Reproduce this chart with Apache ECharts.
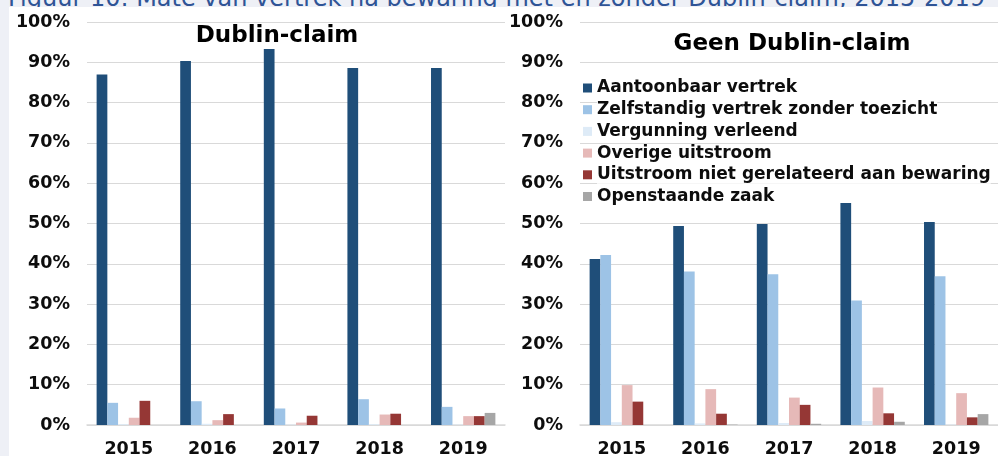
<!DOCTYPE html>
<html>
<head>
<meta charset="utf-8">
<script src="https://cdn.jsdelivr.net/npm/echarts@6/dist/echarts.min.js"></script>
<style>
  html, body { margin: 0; padding: 0; background: #eef0f6; }
  #caption {
    position: absolute; left: 8px; top: -16px; white-space: nowrap;
    font: 24px/28px "DejaVu Sans", sans-serif; color: #2f5496;
  }
  #panel { position: absolute; left: 9px; top: 7px; width: 989px; height: 449px; background: #fff; }
  #chart { position: absolute; left: 0; top: 0; width: 998px; height: 456px; }
</style>
</head>
<body>
<div id="caption">Figuur 10: Mate van vertrek na bewaring met en zonder Dublin-claim, 2015-2019</div>
<div id="panel"></div>
<div id="chart"></div>
<script>
const years = ["2015", "2016", "2017", "2018", "2019"];
const seriesNames = [
  "Aantoonbaar vertrek",
  "Zelfstandig vertrek zonder toezicht",
  "Vergunning verleend",
  "Overige uitstroom",
  "Uitstroom niet gerelateerd aan bewaring",
  "Openstaande zaak"
];
const colors = ["#1f4e79", "#9dc3e6", "#deebf7", "#e6b9b8", "#953735", "#a6a6a6"];

// Dublin-claim (%)
const dublin = [
  [87.0, 90.3, 93.3, 88.6, 88.6],
  [5.5, 5.9, 4.1, 6.4, 4.5],
  [0.2, 0.3, 0.1, 0.2, 0.1],
  [1.8, 1.2, 0.6, 2.6, 2.2],
  [6.0, 2.7, 2.3, 2.8, 2.2],
  [0, 0, 0, 0, 3.0]
];
// Geen Dublin-claim (%)
const geenDublin = [
  [41.2, 49.4, 49.9, 55.1, 50.4],
  [42.2, 38.1, 37.4, 30.9, 36.9],
  [0.7, 0.4, 0.5, 1.0, 0.1],
  [9.9, 8.9, 6.8, 9.3, 7.9],
  [5.8, 2.8, 5.0, 2.9, 1.9],
  [0, 0.1, 0.3, 0.8, 2.7]
];

const font = "DejaVu Sans";
const labelStyle = { fontFamily: font, fontWeight: "bold", fontSize: 17.5, color: "#0d0d0d" };

const grids = [
  { left: 87, top: 22, width: 418, height: 403, outerBoundsMode: "none" },
  { left: 580, top: 22, width: 418, height: 403, outerBoundsMode: "none" }
];

function xAxis(i) {
  return {
    type: "category", gridIndex: i, data: years,
    axisLine: { lineStyle: { color: "#d9d9d9", width: 1.5 } },
    axisTick: { show: false },
    axisLabel: Object.assign({ margin: 15 }, labelStyle)
  };
}
function yAxis(i) {
  return {
    type: "value", gridIndex: i, min: 0, max: 100, interval: 10,
    axisLine: { show: false }, axisTick: { show: false },
    splitLine: { lineStyle: { color: "#d9d9d9" } },
    axisLabel: Object.assign({ formatter: "{value}%", margin: 17 }, labelStyle)
  };
}

function barSeries(data, i) {
  return data.map((vals, k) => ({
    type: "bar", name: seriesNames[k], xAxisIndex: i, yAxisIndex: i,
    data: vals, barGap: "0%", barCategoryGap: "23%",
    itemStyle: { color: colors[k] }
  }));
}

const chart = echarts.init(document.getElementById("chart"));
chart.setOption({
  animation: false,
  color: colors,
  grid: grids,
  xAxis: [xAxis(0), xAxis(1)],
  yAxis: [yAxis(0), yAxis(1)],
  legend: {
    orient: "vertical", left: 578, top: 74,
    itemWidth: 9, itemHeight: 9, itemGap: 3.7,
    icon: "rect",
    data: seriesNames,
    textStyle: { fontFamily: font, fontWeight: "bold", fontSize: 17, lineHeight: 18, color: "#0d0d0d", backgroundColor: "#fff" }
  },
  graphic: [
    { type: "text", x: 277, y: 36, style: { text: "Dublin-claim", font: "bold 23px DejaVu Sans", fill: "#000", textAlign: "center", textVerticalAlign: "middle" } },
    { type: "text", x: 792, y: 44, style: { text: "Geen Dublin-claim", font: "bold 23px DejaVu Sans", fill: "#000", textAlign: "center", textVerticalAlign: "middle" } }
  ],
  series: barSeries(dublin, 0).concat(barSeries(geenDublin, 1))
});
</script>
</body>
</html>
